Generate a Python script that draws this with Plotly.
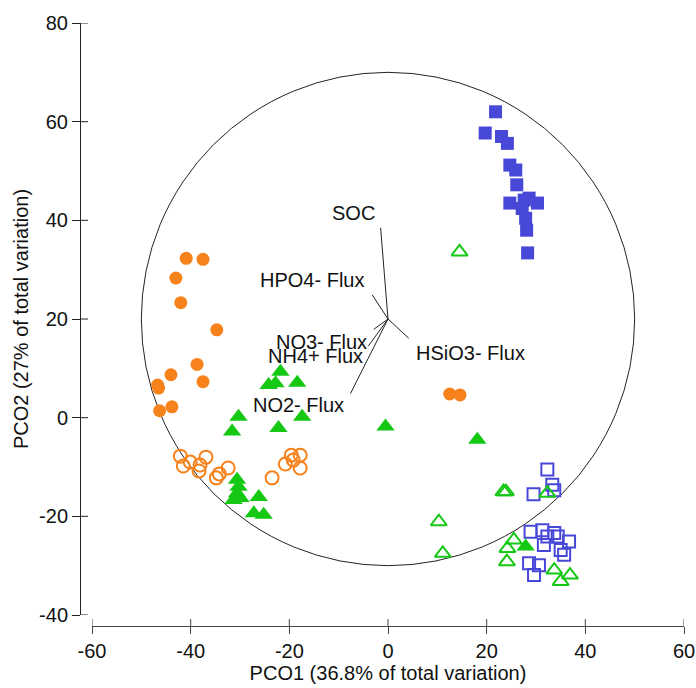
import plotly.graph_objects as go

# ---------------- data ----------------
blue_filled_x = [21.8, 19.7, 23.0, 24.2, 24.7, 25.9, 26.1, 24.7, 27.6, 28.6, 30.3, 27.2, 27.9, 28.1, 28.3]
blue_filled_y = [62.0, 57.7, 57.0, 55.6, 51.2, 50.2, 47.2, 43.5, 44.1, 44.5, 43.5, 42.4, 40.4, 38.0, 33.4]

blue_open_x = [32.3, 33.3, 33.7, 29.5, 28.9, 31.3, 31.6, 32.3, 33.7, 34.4, 36.7, 35.0, 35.7, 28.6, 30.6, 29.6]
blue_open_y = [-10.5, -13.6, -14.7, -15.5, -23.1, -22.8, -25.8, -24.1, -23.4, -24.1, -25.1, -26.8, -27.8, -29.5, -29.9, -31.9]

orange_filled_x = [-40.9, -37.5, -43.0, -42.0, -34.7, -38.7, -44.0, -46.7, -46.5, -37.5, -43.8, -46.3, 12.5, 14.6]
orange_filled_y = [32.3, 32.1, 28.3, 23.3, 17.8, 10.8, 8.7, 6.6, 6.0, 7.3, 2.2, 1.4, 4.8, 4.6]

orange_open_x = [-42.1, -41.5, -40.1, -38.1, -36.9, -38.3, -34.8, -34.2, -32.4, -23.5, -20.8, -19.6, -17.8, -17.8, -19.2]
orange_open_y = [-7.8, -9.8, -9.0, -9.6, -8.0, -10.8, -12.2, -11.4, -10.2, -12.2, -9.4, -7.6, -7.6, -10.2, -8.6]

green_filled_x = [-21.8, -24.2, -22.8, -18.4, -30.3, -31.6, -22.2, -17.4, -30.6, -30.3, -30.6, -31.3, -29.9,
                  -26.2, -27.2, -25.2, -0.5, 18.1, 27.9]
green_filled_y = [9.3, 6.6, 7.0, 7.1, 0.2, -2.8, -2.1, 0.2, -12.6, -14.0, -15.3, -16.7, -16.3,
                  -16.1, -19.4, -19.7, -1.8, -4.5, -26.1]

green_open_x = [14.5, 10.3, 11.1, 23.4, 23.9, 32.3, 25.5, 24.2, 24.1, 33.7, 36.9, 35.0]
green_open_y = [33.6, -21.1, -27.5, -15.0, -15.0, -15.3, -24.8, -26.5, -29.2, -30.9, -31.9, -33.2]

# correlation vectors (origin at circle centre)
vec_names = ["SOC", "HPO4- Flux", "NO3- Flux", "NH4+ Flux", "NO2- Flux", "HSiO3- Flux"]
vec_end_x = [-1.5, -3.2, -2.9, -4.0, -7.6, 4.2]
vec_end_y = [38.5, 24.9, 17.9, 14.5, 4.9, 16.1]
vec_label_x = [-6.9, -15.4, -13.4, -14.7, -18.1, 16.8]
vec_label_y = [41.4, 27.9, 15.4, 12.4, 2.6, 13.2]

circle_center = (0, 20)
circle_radius = 50

x_ticks = [-60, -40, -20, 0, 20, 40, 60]
x_tick_labels = ["-60", "-40", "-20", "0", "20", "40", "60"]
y_ticks = [-40, -20, 0, 20, 40, 60, 80]
y_tick_labels = ["-40", "-20", "0", "20", "40", "60", "80"]

# ---------------- styles ----------------
BLUE = "#4848D8"
ORANGE = "#F7821B"
GREEN = "#14C814"
FONT = "Liberation Sans, Arial, sans-serif"

fig = go.Figure()

fig.add_trace(go.Scatter(x=orange_open_x, y=orange_open_y, mode="markers",
                         marker=dict(symbol="circle-open", size=13, color=ORANGE, line=dict(width=2))))
fig.add_trace(go.Scatter(x=orange_filled_x, y=orange_filled_y, mode="markers",
                         marker=dict(symbol="circle", size=13, color=ORANGE)))
fig.add_trace(go.Scatter(x=blue_open_x, y=blue_open_y, mode="markers",
                         marker=dict(symbol="square-open", size=12, color=BLUE, line=dict(width=2))))
fig.add_trace(go.Scatter(x=blue_filled_x, y=blue_filled_y, mode="markers",
                         marker=dict(symbol="square", size=13, color=BLUE)))
fig.add_trace(go.Scatter(x=green_open_x, y=green_open_y, mode="markers",
                         marker=dict(symbol="triangle-up-open", size=14, color=GREEN, line=dict(width=2))))
fig.add_trace(go.Scatter(x=green_filled_x, y=green_filled_y, mode="markers",
                         marker=dict(symbol="triangle-up", size=16, color=GREEN)))

# vectors
vx, vy = [], []
for ex, ey in zip(vec_end_x, vec_end_y):
    vx += [circle_center[0], ex, None]
    vy += [circle_center[1], ey, None]
fig.add_trace(go.Scatter(x=vx, y=vy, mode="lines", line=dict(color="#222222", width=1), hoverinfo="skip"))

for name, lx, ly in zip(vec_names, vec_label_x, vec_label_y):
    fig.add_annotation(x=lx, y=ly, text=name, showarrow=False,
                       font=dict(family=FONT, size=20, color="#111111"), xanchor="center", yanchor="middle")

# correlation circle
fig.add_shape(type="circle", xref="x", yref="y",
              x0=circle_center[0] - circle_radius, x1=circle_center[0] + circle_radius,
              y0=circle_center[1] - circle_radius, y1=circle_center[1] + circle_radius,
              line=dict(color="#222222", width=1), layer="below")

# paper geometry
L, R, T, B = 75, 8, 18, 58
W, H = 696, 688
pw, ph = W - L - R, H - T - B
x_dom = [(92 - L) / pw, (684 - L) / pw]
y_dom = [(H - B - 615) / ph, (H - B - 23) / ph]
y_axis_pos = (80 - L) / pw
x_axis_pos = (H - B - 626) / ph

# inner halves of the crossing ticks
for t in x_ticks:
    fig.add_shape(type="line", xref="x", yref="paper", ysizemode="pixel", yanchor=x_axis_pos,
                  x0=t, x1=t, y0=0, y1=7, line=dict(color="#444444", width=1))
for t in y_ticks:
    fig.add_shape(type="line", yref="y", xref="paper", xsizemode="pixel", xanchor=y_axis_pos,
                  y0=t, y1=t, x0=0, x1=8, line=dict(color="#222222", width=1))

fig.update_layout(
    width=W, height=H,
    margin=dict(l=L, r=R, t=T, b=B, pad=0, autoexpand=False),
    paper_bgcolor="white", plot_bgcolor="white",
    showlegend=False,
    font=dict(family=FONT, size=18, color="#111111"),
    xaxis=dict(range=[-60, 60], domain=x_dom, anchor="free", position=x_axis_pos,
               automargin=False,
               tickvals=x_ticks, ticktext=x_tick_labels, ticks="outside", ticklen=7, tickcolor="#444444",
               showline=True, linecolor="#444444", linewidth=1,
               showgrid=False, zeroline=False,
               tickfont=dict(family=FONT, size=20),
               title=dict(text="PCO1 (36.8% of total variation)", font=dict(family=FONT, size=20), standoff=2)),
    yaxis=dict(range=[-40, 80], domain=y_dom, anchor="free", position=y_axis_pos,
               automargin=False,
               tickvals=y_ticks, ticktext=y_tick_labels, ticks="outside", ticklen=8, tickcolor="#222222",
               showline=True, linecolor="#222222", linewidth=1,
               showgrid=False, zeroline=False,
               tickfont=dict(family=FONT, size=20),
               title=dict(text="PCO2 (27% of total variation)", font=dict(family=FONT, size=20), standoff=4)),
)

fig.write_html("out.html")
